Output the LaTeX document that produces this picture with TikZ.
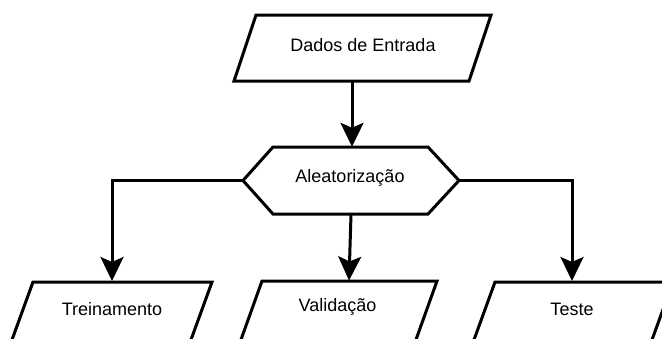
\documentclass[tikz,border=0pt]{standalone}
\usepackage{fontspec}
\setmainfont{Liberation Sans}
\usetikzlibrary{arrows.meta}
\begin{document}
\begin{tikzpicture}[x=1pt,y=-1pt,
  shapeline/.style={draw=black,line width=3pt,fill=white},
  lbl/.style={font=\fontsize{18}{22}\selectfont,inner sep=0pt},
  arr/.style={draw=black,line width=3pt,-{Stealth[length=24pt,width=23pt,inset=5pt]}}]
\clip (0,0) rectangle (662,338);
\useasboundingbox (0,0) rectangle (662,338);
% top parallelogram
\draw[shapeline] (256,15) -- (491,15) -- (469,81) -- (234,81) -- cycle;
\node[lbl] (din) at (363,45) {Dados de Entrada};
\coordinate (dinout) at (352,81);
% hexagon
\draw[shapeline] (243,180.5) -- (273,147) -- (428,147) -- (459,180.5) -- (428,214) -- (273,214) -- cycle;
\node[lbl,minimum width=216pt,minimum height=67pt] (hex) at (351,180.5) {};
\node[lbl] (hextxt) at (350,178) {Aleatorização};
% bottom parallelograms
\draw[shapeline] (33,282) -- (212,282) -- (188,348) -- (9,348) -- cycle;
\draw[shapeline] (262,281) -- (437,281) -- (413,348) -- (238,348) -- cycle;
\draw[shapeline] (495,282) -- (673,282) -- (649,348) -- (471,348) -- cycle;
\node[lbl] (tr) at (112,309) {Treinamento};
\node[lbl] (val) at (337.5,307) {Validação};
\node[lbl] (te) at (572,309) {Teste};
\coordinate (trtop) at (112,281);
\coordinate (valtop) at (349,280.5);
\coordinate (tetop) at (572,281);
% connectors
\draw[arr] (dinout) -- (dinout |- hex.north);
\draw[arr] (hex.west) -| (trtop);
\draw[arr] (hex.south) -- (valtop);
\draw[arr] (hex.east) -| (tetop);
\end{tikzpicture}
\end{document}
